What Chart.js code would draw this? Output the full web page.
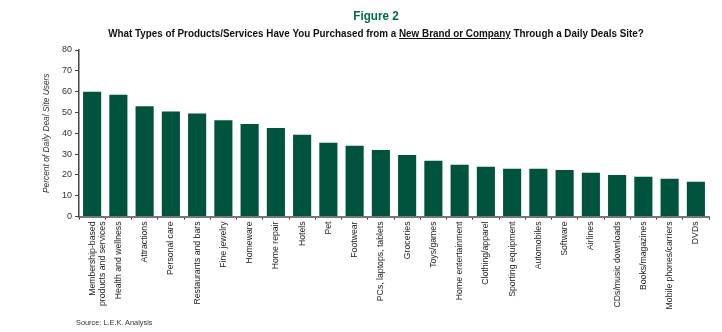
<!DOCTYPE html>
<html>
<head>
<meta charset="utf-8">
<script src="https://cdn.jsdelivr.net/npm/chart.js@4/dist/chart.umd.min.js"></script>
<style>
  html, body { margin: 0; padding: 0; background: #ffffff; }
  #wrap { position: relative; width: 722px; height: 332px; overflow: hidden; }
  #c { position: absolute; left: 0; top: 0; }
  .txt { position: absolute; white-space: nowrap; font-family: "Liberation Sans", Arial, sans-serif; }
  #fig { left: 0; width: 752px; top: 8px; text-align: center; font-size: 13px; font-weight: bold; color: #00694f; transform: scaleX(0.9); transform-origin: 376px 0; }
  #sub { left: 0; width: 752px; top: 27px; text-align: center; font-size: 11.5px; font-weight: bold; color: #111; transform: scaleX(0.857); transform-origin: 376px 0; }
  #sub u { text-decoration: underline; text-underline-offset: 1px; }
  #src { left: 76px; top: 318px; font-size: 8px; color: #333; transform: scaleX(0.92); transform-origin: 0 0; }
</style>
</head>
<body>
<div id="wrap">
  <canvas id="c" width="722" height="332"></canvas>
  <div class="txt" id="fig">Figure 2</div>
  <div class="txt" id="sub">What Types of Products/Services Have You Purchased from a <u>New Brand or Company</u> Through a Daily Deals Site?</div>
  <div class="txt" id="src">Source: L.E.K. Analysis</div>
</div>
<script>
const categories = [
  ["Membership-based", "products and services"],
  "Health and wellness",
  "Attractions",
  "Personal care",
  "Restaurants and bars",
  "Fine jewelry",
  "Homeware",
  "Home repair",
  "Hotels",
  "Pet",
  "Footwear",
  "PCs, laptops, tablets",
  "Groceries",
  "Toys/games",
  "Home entertainment",
  "Clothing/apparel",
  "Sporting equipment",
  "Automobiles",
  "Software",
  "Airlines",
  "CDs/music downloads",
  "Books/magazines",
  "Mobile phones/carriers",
  "DVDs"
];
const percentUsers = [60, 58.5, 53, 50.5, 49.5, 46.3, 44.5, 42.5, 39.3, 35.4, 34, 32, 29.6, 26.8, 24.9, 23.9, 22.9, 22.9, 22.4, 21, 20, 19.1, 18.1, 16.7];
const yTicks = [0, 10, 20, 30, 40, 50, 60, 70, 80];
const yAxisTitle = "Percent of Daily Deal Site Users";

const FONT = "'Liberation Sans', Arial, sans-serif";

new Chart(document.getElementById('c'), {
  type: 'bar',
  data: {
    labels: categories,
    datasets: [{
      data: percentUsers,
      backgroundColor: '#00533d',
      borderWidth: 0,
      categoryPercentage: 1.0,
      barPercentage: 0.69
    }]
  },
  options: {
    responsive: false,
    devicePixelRatio: 1,
    animation: false,
    plugins: { legend: { display: false }, tooltip: { enabled: false }, title: { display: false } },
    layout: { padding: { top: 50, right: 13, bottom: 0, left: 0 } },
    scales: {
      x: {
        grid: { display: true, drawOnChartArea: false, drawTicks: true, tickLength: 3, offset: true, color: '#222', lineWidth: 1 },
        border: { display: true, color: '#777', width: 2 },
        ticks: {
          autoSkip: false, maxRotation: 90, minRotation: 90, padding: 2,
          color: '#222', font: { family: FONT, size: 8.7 }
        },
        afterFit(scale) { scale.height = 115.5; }
      },
      y: {
        min: 0, max: 80,
        afterBuildTicks(scale) { scale.ticks = yTicks.map(v => ({ value: v })); },
        grid: { display: true, drawOnChartArea: false, drawTicks: true, tickLength: 4, color: '#444', lineWidth: 1 },
        border: { display: true, color: '#444', width: 1.5 },
        ticks: { color: '#333', padding: 3, font: { family: FONT, size: 9 } },
        title: {
          display: true, text: yAxisTitle, color: '#333',
          font: { family: FONT, size: 8.4, style: 'italic' },
          padding: { top: 42, bottom: 0 }
        },
        afterFit(scale) { scale.width = 79; }
      }
    }
  }
});
</script>
</body>
</html>
